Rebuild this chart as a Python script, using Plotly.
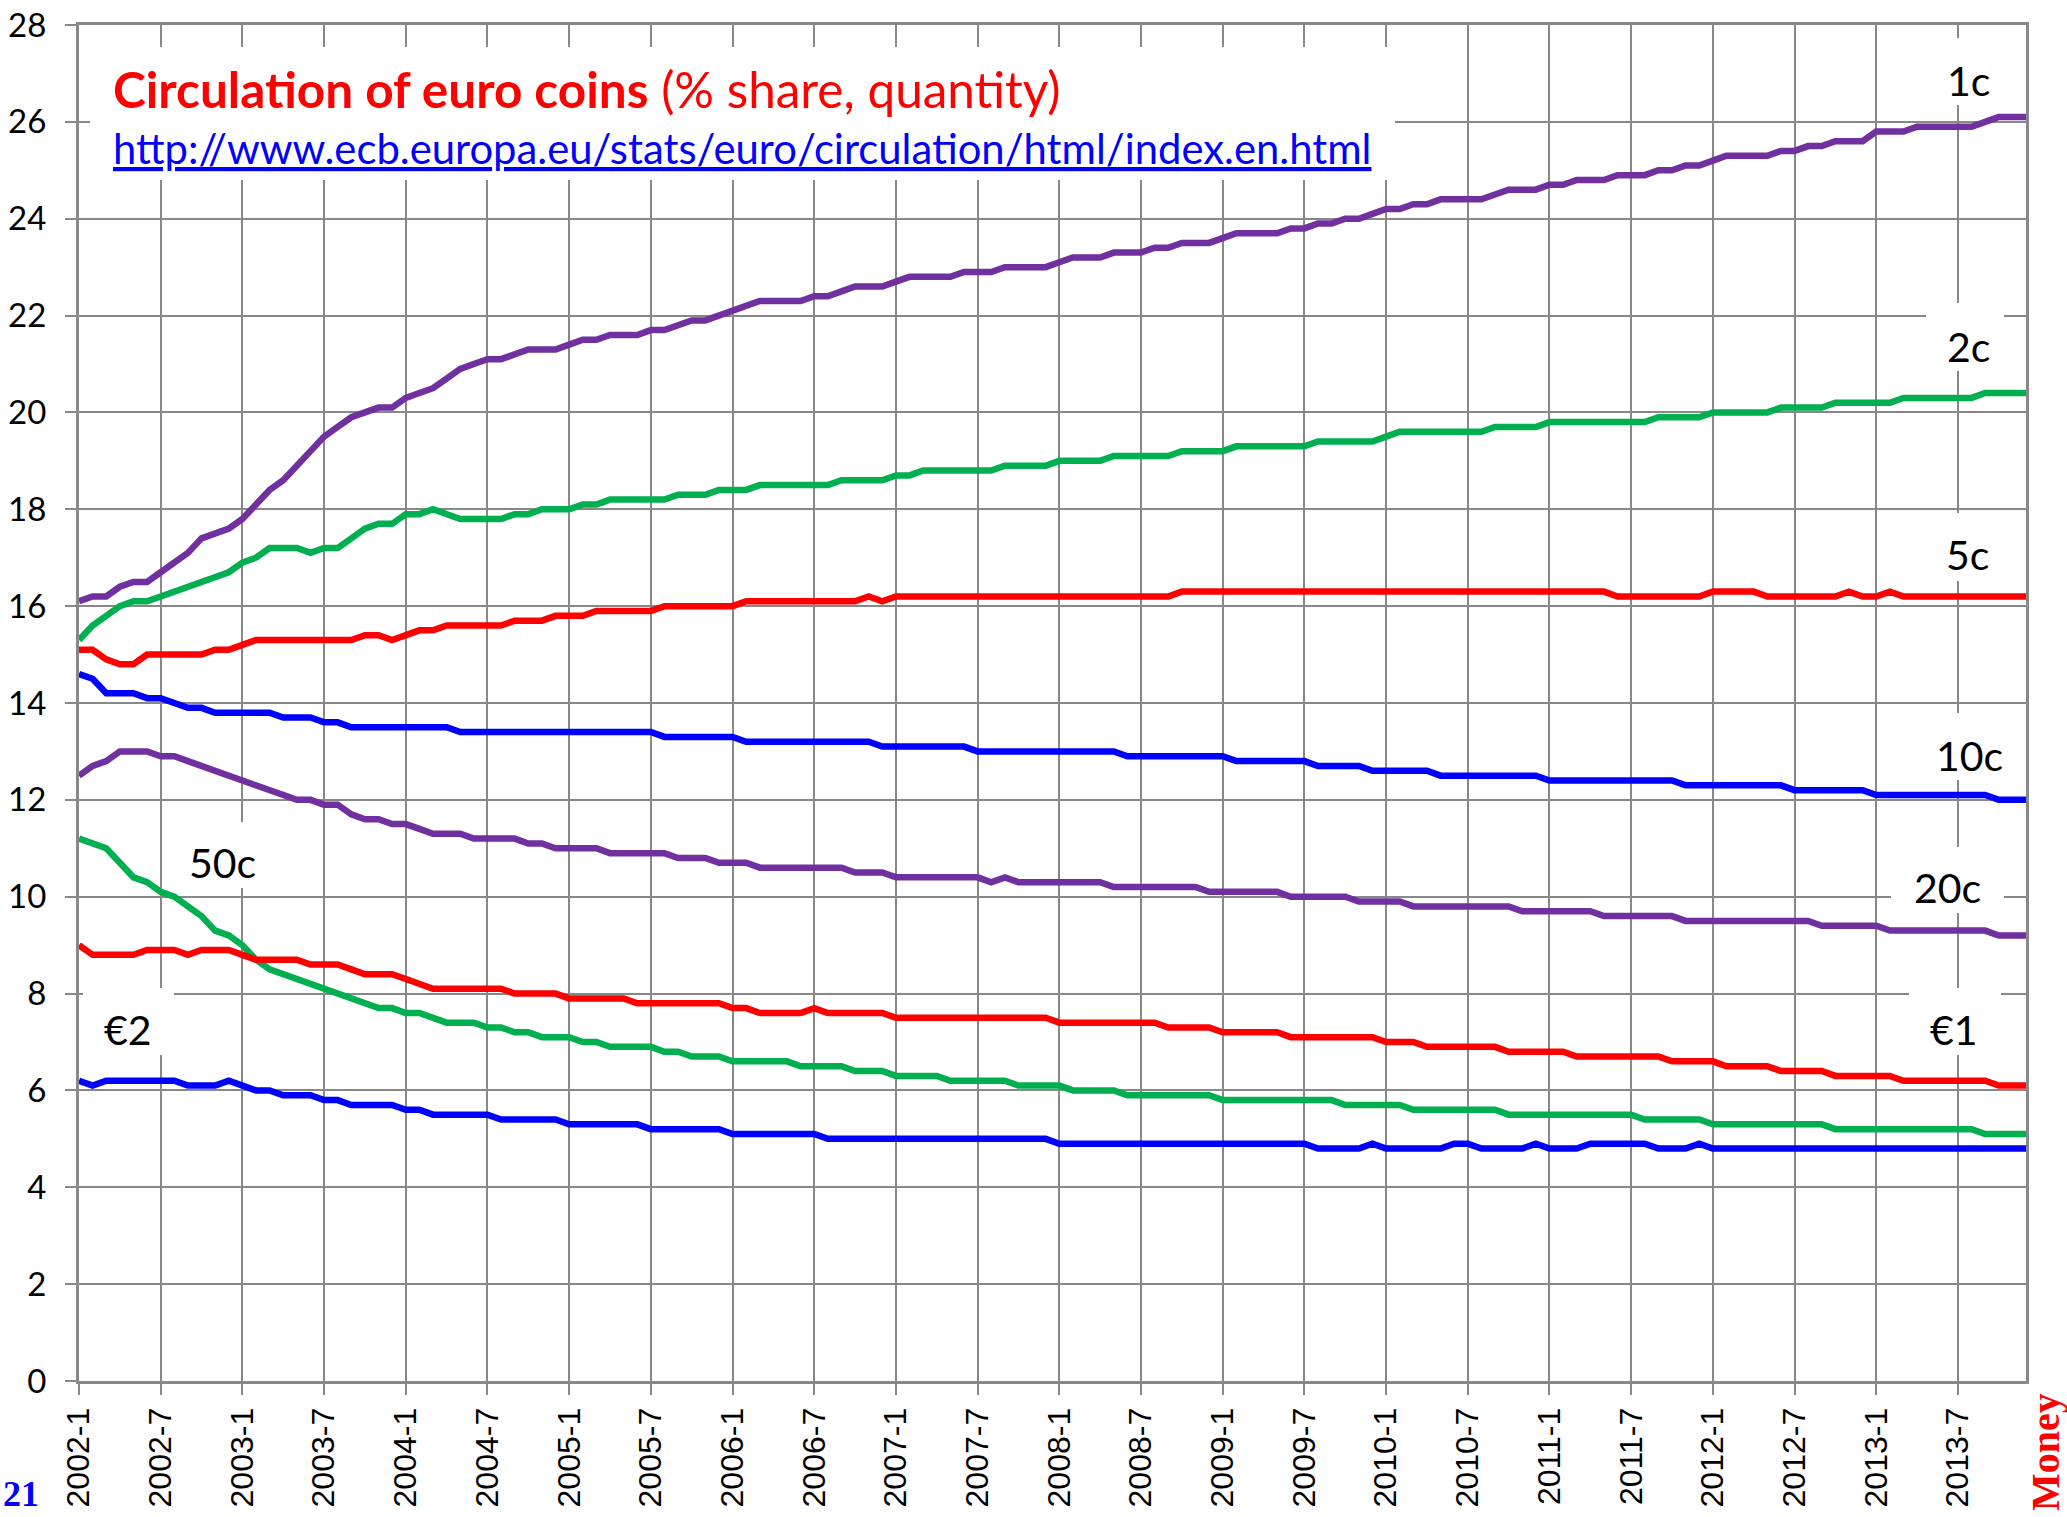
import plotly.graph_objects as go

# ---------------- data ----------------
months = [f"{y}-{m}" for y in range(2002, 2014) for m in range(1, 13)]
tick_labels = months[::6]

c1 = [16.1, 16.2, 16.2, 16.4, 16.5, 16.5, 16.7, 16.9, 17.1, 17.4,
      17.5, 17.6, 17.8, 18.1, 18.4, 18.6, 18.9, 19.2, 19.5, 19.7,
      19.9, 20.0, 20.1, 20.1, 20.3, 20.4, 20.5, 20.7, 20.9, 21.0,
      21.1, 21.1, 21.2, 21.3, 21.3, 21.3, 21.4, 21.5, 21.5, 21.6,
      21.6, 21.6, 21.7, 21.7, 21.8, 21.9, 21.9, 22.0, 22.1, 22.2,
      22.3, 22.3, 22.3, 22.3, 22.4, 22.4, 22.5, 22.6, 22.6, 22.6,
      22.7, 22.8, 22.8, 22.8, 22.8, 22.9, 22.9, 22.9, 23.0, 23.0,
      23.0, 23.0, 23.1, 23.2, 23.2, 23.2, 23.3, 23.3, 23.3, 23.4,
      23.4, 23.5, 23.5, 23.5, 23.6, 23.7, 23.7, 23.7, 23.7, 23.8,
      23.8, 23.9, 23.9, 24.0, 24.0, 24.1, 24.2, 24.2, 24.3, 24.3,
      24.4, 24.4, 24.4, 24.4, 24.5, 24.6, 24.6, 24.6, 24.7, 24.7,
      24.8, 24.8, 24.8, 24.9, 24.9, 24.9, 25.0, 25.0, 25.1, 25.1,
      25.2, 25.3, 25.3, 25.3, 25.3, 25.4, 25.4, 25.5, 25.5, 25.6,
      25.6, 25.6, 25.8, 25.8, 25.8, 25.9, 25.9, 25.9, 25.9, 25.9,
      26.0, 26.1, 26.1, 26.1]

c2 = [15.3, 15.6, 15.8, 16.0, 16.1, 16.1, 16.2, 16.3, 16.4, 16.5,
      16.6, 16.7, 16.9, 17.0, 17.2, 17.2, 17.2, 17.1, 17.2, 17.2,
      17.4, 17.6, 17.7, 17.7, 17.9, 17.9, 18.0, 17.9, 17.8, 17.8,
      17.8, 17.8, 17.9, 17.9, 18.0, 18.0, 18.0, 18.1, 18.1, 18.2,
      18.2, 18.2, 18.2, 18.2, 18.3, 18.3, 18.3, 18.4, 18.4, 18.4,
      18.5, 18.5, 18.5, 18.5, 18.5, 18.5, 18.6, 18.6, 18.6, 18.6,
      18.7, 18.7, 18.8, 18.8, 18.8, 18.8, 18.8, 18.8, 18.9, 18.9,
      18.9, 18.9, 19.0, 19.0, 19.0, 19.0, 19.1, 19.1, 19.1, 19.1,
      19.1, 19.2, 19.2, 19.2, 19.2, 19.3, 19.3, 19.3, 19.3, 19.3,
      19.3, 19.4, 19.4, 19.4, 19.4, 19.4, 19.5, 19.6, 19.6, 19.6,
      19.6, 19.6, 19.6, 19.6, 19.7, 19.7, 19.7, 19.7, 19.8, 19.8,
      19.8, 19.8, 19.8, 19.8, 19.8, 19.8, 19.9, 19.9, 19.9, 19.9,
      20.0, 20.0, 20.0, 20.0, 20.0, 20.1, 20.1, 20.1, 20.1, 20.2,
      20.2, 20.2, 20.2, 20.2, 20.3, 20.3, 20.3, 20.3, 20.3, 20.3,
      20.4, 20.4, 20.4, 20.4]

c5 = [15.1, 15.1, 14.9, 14.8, 14.8, 15.0, 15.0, 15.0, 15.0, 15.0,
      15.1, 15.1, 15.2, 15.3, 15.3, 15.3, 15.3, 15.3, 15.3, 15.3,
      15.3, 15.4, 15.4, 15.3, 15.4, 15.5, 15.5, 15.6, 15.6, 15.6,
      15.6, 15.6, 15.7, 15.7, 15.7, 15.8, 15.8, 15.8, 15.9, 15.9,
      15.9, 15.9, 15.9, 16.0, 16.0, 16.0, 16.0, 16.0, 16.0, 16.1,
      16.1, 16.1, 16.1, 16.1, 16.1, 16.1, 16.1, 16.1, 16.2, 16.1,
      16.2, 16.2, 16.2, 16.2, 16.2, 16.2, 16.2, 16.2, 16.2, 16.2,
      16.2, 16.2, 16.2, 16.2, 16.2, 16.2, 16.2, 16.2, 16.2, 16.2,
      16.2, 16.3, 16.3, 16.3, 16.3, 16.3, 16.3, 16.3, 16.3, 16.3,
      16.3, 16.3, 16.3, 16.3, 16.3, 16.3, 16.3, 16.3, 16.3, 16.3,
      16.3, 16.3, 16.3, 16.3, 16.3, 16.3, 16.3, 16.3, 16.3, 16.3,
      16.3, 16.3, 16.3, 16.2, 16.2, 16.2, 16.2, 16.2, 16.2, 16.2,
      16.3, 16.3, 16.3, 16.3, 16.2, 16.2, 16.2, 16.2, 16.2, 16.2,
      16.3, 16.2, 16.2, 16.3, 16.2, 16.2, 16.2, 16.2, 16.2, 16.2,
      16.2, 16.2, 16.2, 16.2]

c10 = [14.6, 14.5, 14.2, 14.2, 14.2, 14.1, 14.1, 14.0, 13.9, 13.9,
       13.8, 13.8, 13.8, 13.8, 13.8, 13.7, 13.7, 13.7, 13.6, 13.6,
       13.5, 13.5, 13.5, 13.5, 13.5, 13.5, 13.5, 13.5, 13.4, 13.4,
       13.4, 13.4, 13.4, 13.4, 13.4, 13.4, 13.4, 13.4, 13.4, 13.4,
       13.4, 13.4, 13.4, 13.3, 13.3, 13.3, 13.3, 13.3, 13.3, 13.2,
       13.2, 13.2, 13.2, 13.2, 13.2, 13.2, 13.2, 13.2, 13.2, 13.1,
       13.1, 13.1, 13.1, 13.1, 13.1, 13.1, 13.0, 13.0, 13.0, 13.0,
       13.0, 13.0, 13.0, 13.0, 13.0, 13.0, 13.0, 12.9, 12.9, 12.9,
       12.9, 12.9, 12.9, 12.9, 12.9, 12.8, 12.8, 12.8, 12.8, 12.8,
       12.8, 12.7, 12.7, 12.7, 12.7, 12.6, 12.6, 12.6, 12.6, 12.6,
       12.5, 12.5, 12.5, 12.5, 12.5, 12.5, 12.5, 12.5, 12.4, 12.4,
       12.4, 12.4, 12.4, 12.4, 12.4, 12.4, 12.4, 12.4, 12.3, 12.3,
       12.3, 12.3, 12.3, 12.3, 12.3, 12.3, 12.2, 12.2, 12.2, 12.2,
       12.2, 12.2, 12.1, 12.1, 12.1, 12.1, 12.1, 12.1, 12.1, 12.1,
       12.1, 12.0, 12.0, 12.0]

c20 = [12.5, 12.7, 12.8, 13.0, 13.0, 13.0, 12.9, 12.9, 12.8, 12.7,
       12.6, 12.5, 12.4, 12.3, 12.2, 12.1, 12.0, 12.0, 11.9, 11.9,
       11.7, 11.6, 11.6, 11.5, 11.5, 11.4, 11.3, 11.3, 11.3, 11.2,
       11.2, 11.2, 11.2, 11.1, 11.1, 11.0, 11.0, 11.0, 11.0, 10.9,
       10.9, 10.9, 10.9, 10.9, 10.8, 10.8, 10.8, 10.7, 10.7, 10.7,
       10.6, 10.6, 10.6, 10.6, 10.6, 10.6, 10.6, 10.5, 10.5, 10.5,
       10.4, 10.4, 10.4, 10.4, 10.4, 10.4, 10.4, 10.3, 10.4, 10.3,
       10.3, 10.3, 10.3, 10.3, 10.3, 10.3, 10.2, 10.2, 10.2, 10.2,
       10.2, 10.2, 10.2, 10.1, 10.1, 10.1, 10.1, 10.1, 10.1, 10.0,
       10.0, 10.0, 10.0, 10.0, 9.9, 9.9, 9.9, 9.9, 9.8, 9.8,
       9.8, 9.8, 9.8, 9.8, 9.8, 9.8, 9.7, 9.7, 9.7, 9.7,
       9.7, 9.7, 9.6, 9.6, 9.6, 9.6, 9.6, 9.6, 9.5, 9.5,
       9.5, 9.5, 9.5, 9.5, 9.5, 9.5, 9.5, 9.5, 9.4, 9.4,
       9.4, 9.4, 9.4, 9.3, 9.3, 9.3, 9.3, 9.3, 9.3, 9.3,
       9.3, 9.2, 9.2, 9.2]

c50 = [11.2, 11.1, 11.0, 10.7, 10.4, 10.3, 10.1, 10.0, 9.8, 9.6,
       9.3, 9.2, 9.0, 8.7, 8.5, 8.4, 8.3, 8.2, 8.1, 8.0,
       7.9, 7.8, 7.7, 7.7, 7.6, 7.6, 7.5, 7.4, 7.4, 7.4,
       7.3, 7.3, 7.2, 7.2, 7.1, 7.1, 7.1, 7.0, 7.0, 6.9,
       6.9, 6.9, 6.9, 6.8, 6.8, 6.7, 6.7, 6.7, 6.6, 6.6,
       6.6, 6.6, 6.6, 6.5, 6.5, 6.5, 6.5, 6.4, 6.4, 6.4,
       6.3, 6.3, 6.3, 6.3, 6.2, 6.2, 6.2, 6.2, 6.2, 6.1,
       6.1, 6.1, 6.1, 6.0, 6.0, 6.0, 6.0, 5.9, 5.9, 5.9,
       5.9, 5.9, 5.9, 5.9, 5.8, 5.8, 5.8, 5.8, 5.8, 5.8,
       5.8, 5.8, 5.8, 5.7, 5.7, 5.7, 5.7, 5.7, 5.6, 5.6,
       5.6, 5.6, 5.6, 5.6, 5.6, 5.5, 5.5, 5.5, 5.5, 5.5,
       5.5, 5.5, 5.5, 5.5, 5.5, 5.4, 5.4, 5.4, 5.4, 5.4,
       5.3, 5.3, 5.3, 5.3, 5.3, 5.3, 5.3, 5.3, 5.3, 5.2,
       5.2, 5.2, 5.2, 5.2, 5.2, 5.2, 5.2, 5.2, 5.2, 5.2,
       5.1, 5.1, 5.1, 5.1]

e1 = [9.0, 8.8, 8.8, 8.8, 8.8, 8.9, 8.9, 8.9, 8.8, 8.9,
      8.9, 8.9, 8.8, 8.7, 8.7, 8.7, 8.7, 8.6, 8.6, 8.6,
      8.5, 8.4, 8.4, 8.4, 8.3, 8.2, 8.1, 8.1, 8.1, 8.1,
      8.1, 8.1, 8.0, 8.0, 8.0, 8.0, 7.9, 7.9, 7.9, 7.9,
      7.9, 7.8, 7.8, 7.8, 7.8, 7.8, 7.8, 7.8, 7.7, 7.7,
      7.6, 7.6, 7.6, 7.6, 7.7, 7.6, 7.6, 7.6, 7.6, 7.6,
      7.5, 7.5, 7.5, 7.5, 7.5, 7.5, 7.5, 7.5, 7.5, 7.5,
      7.5, 7.5, 7.4, 7.4, 7.4, 7.4, 7.4, 7.4, 7.4, 7.4,
      7.3, 7.3, 7.3, 7.3, 7.2, 7.2, 7.2, 7.2, 7.2, 7.1,
      7.1, 7.1, 7.1, 7.1, 7.1, 7.1, 7.0, 7.0, 7.0, 6.9,
      6.9, 6.9, 6.9, 6.9, 6.9, 6.8, 6.8, 6.8, 6.8, 6.8,
      6.7, 6.7, 6.7, 6.7, 6.7, 6.7, 6.7, 6.6, 6.6, 6.6,
      6.6, 6.5, 6.5, 6.5, 6.5, 6.4, 6.4, 6.4, 6.4, 6.3,
      6.3, 6.3, 6.3, 6.3, 6.2, 6.2, 6.2, 6.2, 6.2, 6.2,
      6.2, 6.1, 6.1, 6.1]

e2 = [6.2, 6.1, 6.2, 6.2, 6.2, 6.2, 6.2, 6.2, 6.1, 6.1,
      6.1, 6.2, 6.1, 6.0, 6.0, 5.9, 5.9, 5.9, 5.8, 5.8,
      5.7, 5.7, 5.7, 5.7, 5.6, 5.6, 5.5, 5.5, 5.5, 5.5,
      5.5, 5.4, 5.4, 5.4, 5.4, 5.4, 5.3, 5.3, 5.3, 5.3,
      5.3, 5.3, 5.2, 5.2, 5.2, 5.2, 5.2, 5.2, 5.1, 5.1,
      5.1, 5.1, 5.1, 5.1, 5.1, 5.0, 5.0, 5.0, 5.0, 5.0,
      5.0, 5.0, 5.0, 5.0, 5.0, 5.0, 5.0, 5.0, 5.0, 5.0,
      5.0, 5.0, 4.9, 4.9, 4.9, 4.9, 4.9, 4.9, 4.9, 4.9,
      4.9, 4.9, 4.9, 4.9, 4.9, 4.9, 4.9, 4.9, 4.9, 4.9,
      4.9, 4.8, 4.8, 4.8, 4.8, 4.9, 4.8, 4.8, 4.8, 4.8,
      4.8, 4.9, 4.9, 4.8, 4.8, 4.8, 4.8, 4.9, 4.8, 4.8,
      4.8, 4.9, 4.9, 4.9, 4.9, 4.9, 4.8, 4.8, 4.8, 4.9,
      4.8, 4.8, 4.8, 4.8, 4.8, 4.8, 4.8, 4.8, 4.8, 4.8,
      4.8, 4.8, 4.8, 4.8, 4.8, 4.8, 4.8, 4.8, 4.8, 4.8,
      4.8, 4.8, 4.8, 4.8]

series_names = ["1c", "2c", "5c", "10c", "20c", "50c", "€1", "€2"]
series_values = [c1, c2, c5, c10, c20, c50, e1, e2]

PURPLE, GREEN, RED, BLUE = "#7030A0", "#00B050", "#FF0000", "#0000FF"
series_colors = [PURPLE, GREEN, RED, BLUE, PURPLE, GREEN, RED, BLUE]

# ---------------- geometry ----------------
W, H = 2067, 1517
ML, MR, MT, MB = 79, 41, 25, 136
PW, PH = W - ML - MR, H - MT - MB


def xp(px):
    return (px - ML) / PW


def yp(py):
    return (H - MB - py) / PH


TEXT_FONT = "Lato, 'Open Sans', sans-serif"
GRID = "#888888"

fig = go.Figure()
for name, vals, col in zip(series_names, series_values, series_colors):
    fig.add_trace(go.Scatter(x=months, y=vals, mode="lines", name=name,
                             line=dict(color=col, width=6.5),
                             showlegend=False, hoverinfo="skip"))

# white label boxes (hide gridlines behind text)
boxes = [
    (90, 47, 1395, 180),      # title
    (1926, 38, 2004, 105),    # 1c
    (1926, 303, 2004, 371),   # 2c
    (1927, 513, 2005, 581),   # 5c
    (1917, 713, 2021, 780),   # 10c
    (1891, 847, 2004, 913),   # 20c
    (1909, 988, 2001, 1055),  # €1
    (168, 822, 276, 888),     # 50c
    (83, 988, 174, 1055),     # €2
]
for x0, y0, x1, y1 in boxes:
    fig.add_shape(type="rect", xref="paper", yref="paper",
                  x0=xp(x0), x1=xp(x1), y0=yp(y1), y1=yp(y0),
                  fillcolor="white", line=dict(width=0), layer="above")

# series labels
label_pos = {"1c": (1968, 80), "2c": (1968, 346), "5c": (1967, 554),
             "10c": (1969, 755), "20c": (1947, 887), "€1": (1954, 1029),
             "50c": (222, 862), "€2": (128, 1029)}
for name in series_names:
    lx, ly = label_pos[name]
    fig.add_annotation(x=xp(lx), y=yp(ly), xref="paper", yref="paper",
                       text=name, showarrow=False, xanchor="center", yanchor="middle",
                       font=dict(family=TEXT_FONT, size=41, color="black"))

# title and source
fig.add_annotation(x=xp(111), y=yp(89), xref="paper", yref="paper",
                   text="<b>Circulation of euro coins</b> (% share, quantity)",
                   showarrow=False, xanchor="left", yanchor="middle",
                   font=dict(family=TEXT_FONT, size=49.5, color="#FF0000"))
fig.add_annotation(x=xp(111), y=yp(148), xref="paper", yref="paper",
                   text="<u>http://www.ecb.europa.eu/stats/euro/circulation/html/index.en.html</u>",
                   showarrow=False, xanchor="left", yanchor="middle",
                   font=dict(family=TEXT_FONT, size=41.8, color="#0000FF"))

# corner marks
fig.add_annotation(x=xp(2045), y=yp(1452), xref="paper", yref="paper",
                   text="<b>Money</b>", textangle=-90, showarrow=False,
                   xanchor="center", yanchor="middle",
                   font=dict(family="'Liberation Serif', 'DejaVu Serif', serif", size=40, color="#FF0000"))
fig.add_annotation(x=xp(1), y=yp(1516), xref="paper", yref="paper",
                   text="<b>21</b>", showarrow=False,
                   xanchor="left", yanchor="bottom",
                   font=dict(family="'Liberation Serif', 'DejaVu Serif', serif", size=36, color="#0000FF"))

fig.update_xaxes(type="category", range=[0, len(months) - 1], automargin=False,
                 tickmode="array", tickvals=tick_labels, ticktext=tick_labels,
                 tickangle=-90, ticks="outside", ticklen=11, tickwidth=2, tickcolor=GRID,
                 showgrid=True, gridcolor=GRID, gridwidth=2,
                 showline=True, linecolor=GRID, linewidth=3, mirror=True,
                 zeroline=False,
                 tickfont=dict(family="'Liberation Sans', Arial, sans-serif", size=32, color="black"))
fig.update_yaxes(range=[0, 28], dtick=2, tick0=0, automargin=False,
                 ticks="outside", ticklen=11, tickwidth=2, tickcolor=GRID,
                 ticklabelstandoff=12,
                 showgrid=True, gridcolor=GRID, gridwidth=2,
                 showline=True, linecolor=GRID, linewidth=3, mirror=True,
                 zeroline=False,
                 tickfont=dict(family=TEXT_FONT, size=33, color="black"))

fig.update_layout(width=W, height=H, autosize=False,
                  margin=dict(l=ML, r=MR, t=MT, b=MB, autoexpand=False),
                  paper_bgcolor="white", plot_bgcolor="white",
                  showlegend=False, font=dict(family=TEXT_FONT))

fig.write_html("out.html", include_plotlyjs=True,
               config={"displayModeBar": False},
               post_script="document.body.style.margin='0px';document.body.style.overflow='hidden';")
